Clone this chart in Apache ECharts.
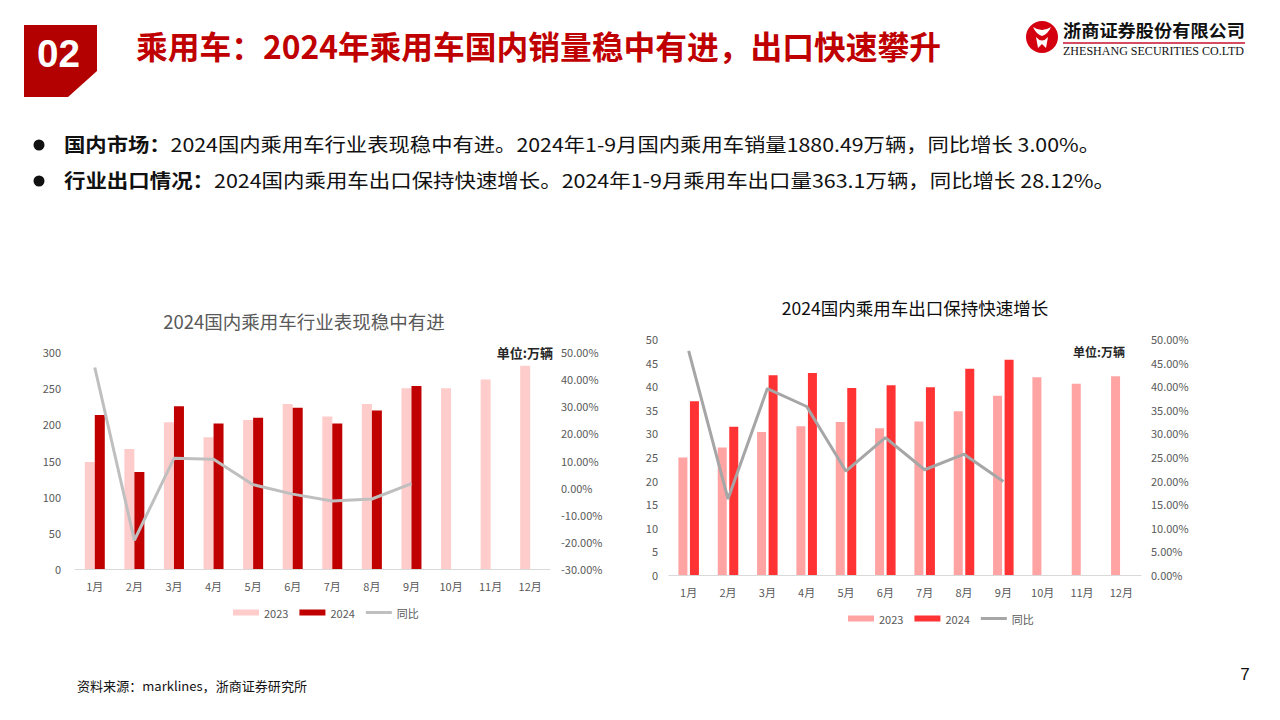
<!DOCTYPE html>
<html>
<head>
<meta charset="utf-8">
<script src="https://cdn.jsdelivr.net/npm/echarts@6/dist/echarts.min.js"></script>
<style>
html,body{margin:0;padding:0;background:#fff;}
#page{position:relative;width:1280px;height:720px;overflow:hidden;background:#fff;font-family:"Noto Sans CJK SC","Noto Sans",sans-serif;}
#hdr{position:absolute;left:0;top:0;}
#chartA{position:absolute;left:0;top:280px;width:640px;height:360px;}
#chartB{position:absolute;left:630px;top:280px;width:650px;height:360px;}
</style>
</head>
<body>
<div id="page">
<svg id="hdr" width="1280" height="720" xmlns="http://www.w3.org/2000/svg" font-family="Noto Sans CJK SC, Noto Sans, sans-serif">
  <polygon points="24,25 97,25 97,71 68,97 24,97" fill="#B30000"/>
  <text x="37" y="67" font-size="38" font-weight="bold" fill="#fff" textLength="43" lengthAdjust="spacingAndGlyphs" font-family="Liberation Sans, Arial, sans-serif">02</text>
  <text x="136" y="59" font-size="32" font-weight="bold" fill="#C00000" textLength="805" lengthAdjust="spacingAndGlyphs">乘用车：2024年乘用车国内销量稳中有进，出口快速攀升</text>
  <!-- logo -->
  <circle cx="1042" cy="37" r="16" fill="#D40010"/>
  <path d="M1033 27 Q1042 33 1051 27 Q1048 34 1042 36 Q1036 34 1033 27 Z" fill="#fff"/>
  <path d="M1036 37 Q1042 44 1048 37 L1046 48 L1042 44 L1038 48 Z" fill="#fff"/>
  <text x="1063" y="37" font-size="17" font-weight="bold" fill="#111" textLength="182" lengthAdjust="spacingAndGlyphs">浙商证券股份有限公司</text>
  <line x1="1063" y1="43" x2="1245" y2="43" stroke="#C8102E" stroke-width="1.5"/>
  <text x="1063" y="55" font-size="12" fill="#111" textLength="181" lengthAdjust="spacingAndGlyphs" font-family="Liberation Serif, serif">ZHESHANG SECURITIES CO.LTD</text>
  <!-- bullets -->
  <circle cx="39" cy="145" r="5.5" fill="#111"/>
  <circle cx="39" cy="181" r="5.5" fill="#111"/>
  <text x="64" y="152" font-size="19" fill="#111" textLength="1036" lengthAdjust="spacingAndGlyphs"><tspan font-weight="bold">国内市场：</tspan>2024国内乘用车行业表现稳中有进。2024年1-9月国内乘用车销量1880.49万辆，同比增长 3.00%。</text>
  <text x="64" y="188" font-size="19" fill="#111" textLength="1051" lengthAdjust="spacingAndGlyphs"><tspan font-weight="bold">行业出口情况：</tspan>2024国内乘用车出口保持快速增长。2024年1-9月乘用车出口量363.1万辆，同比增长 28.12%。</text>
  <!-- footer -->
  <text x="77" y="691" font-size="13" fill="#111" textLength="230" lengthAdjust="spacingAndGlyphs">资料来源：marklines，浙商证券研究所</text>
  <text x="1245" y="680" font-size="17" fill="#111" text-anchor="middle" font-family="Liberation Sans, Arial, sans-serif">7</text>
</svg>
<div id="chartA"></div>
<div id="chartB"></div>
</div>
<script>
// ---- data ----
var months = ['1月','2月','3月','4月','5月','6月','7月','8月','9月','10月','11月','12月'];
var seriesNames = ['2023','2024','同比'];

var domTitle = '2024国内乘用车行业表现稳中有进';
var dom2023 = [148,166,203,182,206,228,211,228,250,250,262,281];
var dom2024 = [213,134,225,201,209,223,201,219,253];
var domYoY  = [44.3,-19.4,10.8,10.5,1.1,-2.4,-4.9,-4.2,1.5];

var expTitle = '2024国内乘用车出口保持快速增长';
var exp2023 = [24.9,27.0,30.3,31.5,32.4,31.1,32.5,34.7,38.0,41.9,40.5,42.1];
var exp2024 = [36.8,31.4,42.3,42.8,39.6,40.2,39.8,43.7,45.6];
var expYoY  = [47.5,16.1,39.5,35.7,22.0,29.1,22.3,25.6,19.8];

var unitLabel = '单位:万辆';

var FONT = '"Noto Sans CJK SC","Noto Sans",sans-serif';
var LBL = '#595959';

function pct(v){ return v.toFixed(2) + '%'; }

function build(cfg){
  return {
    animation: false,
    textStyle: {fontFamily: FONT},
    graphic: [
      {type:'text', x: cfg.titleX, y: cfg.titleY,
        style:{text: cfg.title, fill: cfg.titleColor, font: cfg.titleFont + ' ' + FONT, textAlign:'center', textVerticalAlign:'middle'}},
      {type:'text', x: cfg.unitX, y: cfg.unitY,
        style:{text: unitLabel, fill:'#262626', font: 'bold ' + cfg.unitSize + 'px ' + FONT, textAlign: cfg.unitAlign, textVerticalAlign:'middle'}}
    ],
    legend: {
      left: cfg.legendLeft, top: cfg.legendTop, padding: 0,
      itemWidth: 26, itemHeight: 6, itemGap: 11,
      textStyle: {color: LBL, fontSize: 11, fontFamily: FONT},
      data: [
        {name: seriesNames[0], icon:'rect'},
        {name: seriesNames[1], icon:'rect'},
        {name: seriesNames[2], icon:'path://M0,0 L26,0 L26,3 L0,3 Z'}
      ]
    },
    grid: {left: cfg.gridLeft, top: cfg.gridTop, width: cfg.gridW, height: cfg.gridH},
    xAxis: {
      type:'category', data: months,
      axisLine:{lineStyle:{color:'#D9D9D9', width:1}},
      axisTick:{show:false},
      axisLabel:{color: LBL, fontSize: 11, margin: 11}
    },
    yAxis: [
      {type:'value', min: cfg.lMin, max: cfg.lMax, interval: cfg.lInt,
        axisLine:{show:false}, axisTick:{show:false}, splitLine:{show:false},
        axisLabel:{color: LBL, fontSize: 11, margin: cfg.lMargin}},
      {type:'value', min: cfg.rMin, max: cfg.rMax, interval: cfg.rInt,
        axisLine:{show:false}, axisTick:{show:false}, splitLine:{show:false},
        axisLabel:{color: LBL, fontSize: 11, margin: cfg.rMargin, formatter: pct}}
    ],
    series: [
      {name: seriesNames[0], type:'bar', data: cfg.d23, barWidth: cfg.barW, barGap: cfg.barGap,
        itemStyle:{color: cfg.c23}},
      {name: seriesNames[1], type:'bar', data: cfg.d24, barWidth: cfg.barW, barGap: cfg.barGap,
        itemStyle:{color: cfg.c24}},
      {name: seriesNames[2], type:'line', yAxisIndex: 1, data: cfg.yoy, symbol:'none',
        lineStyle:{color: cfg.cLine, width: 3}, itemStyle:{color: cfg.cLine}, z: 5}
    ]
  };
}

var chartA = echarts.init(document.getElementById('chartA'), null, {renderer:'svg'});
chartA.setOption(build({
  title: domTitle, titleColor:'#595959', titleFont:'18.5px', titleX: 304, titleY: 41,
  unitX: 553, unitY: 72, unitAlign:'right', unitSize: 13,
  legendLeft: 233, legendTop: 327,
  gridLeft: 75, gridTop: 72, gridW: 475, gridH: 217,
  lMin: 0, lMax: 300, lInt: 50, lMargin: 14,
  rMin: -30, rMax: 50, rInt: 10, rMargin: 11,
  d23: dom2023, d24: dom2024, yoy: domYoY,
  barW: 10, barGap: '0%',
  c23:'#FFCCCC', c24:'#C00000', cLine:'#BFBFBF'
}));

var chartB = echarts.init(document.getElementById('chartB'), null, {renderer:'svg'});
chartB.setOption(build({
  title: expTitle, titleColor:'#0D0D0D', titleFont:'17.5px', titleX: 285, titleY: 27,
  unitX: 443, unitY: 71, unitAlign:'left', unitSize: 12,
  legendLeft: 218, legendTop: 333,
  gridLeft: 39, gridTop: 59, gridW: 472, gridH: 236,
  lMin: 0, lMax: 50, lInt: 5, lMargin: 11,
  rMin: 0, rMax: 50, rInt: 5, rMargin: 10,
  d23: exp2023, d24: exp2024, yoy: expYoY,
  barW: 9, barGap: '28%',
  c23:'#FFA3A3', c24:'#FF3333', cLine:'#A6A6A6'
}));
</script>
</body>
</html>
